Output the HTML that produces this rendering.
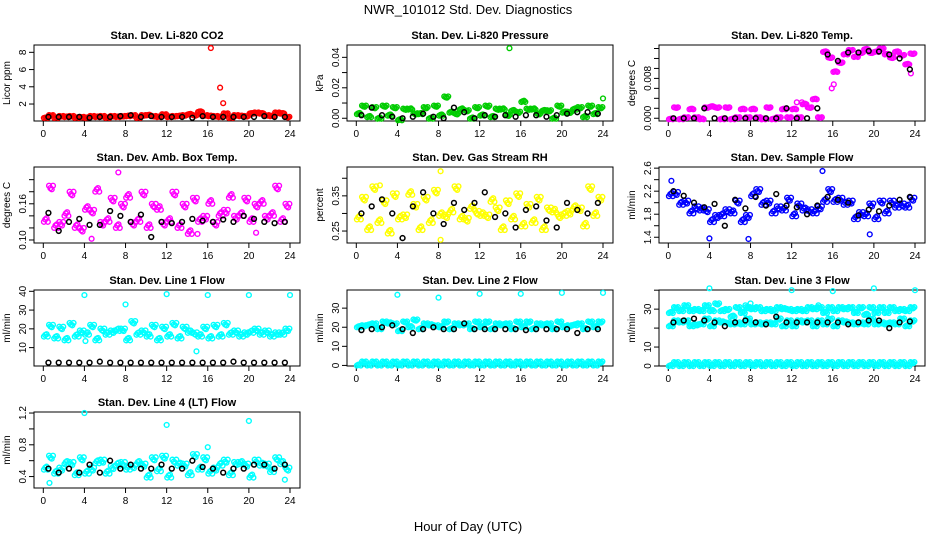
<!DOCTYPE html>
<html><head><meta charset="utf-8"><style>
html,body{margin:0;padding:0;background:#fff;}
svg{display:block;font-family:"Liberation Sans",Arial,sans-serif;}
</style></head><body>
<svg id="chart" width="936" height="540" viewBox="0 0 936 540">
<text x="468" y="14" text-anchor="middle" font-size="13">NWR_101012 Std. Dev. Diagnostics</text>
<text x="468" y="531" text-anchor="middle" font-size="13">Hour of Day (UTC)</text>
</svg>
<script>
// ---- data (values every 0.5 h for colored series, hourly for black series) ----
const xTicks = [0,4,8,12,16,20,24];
const co2Vals = [0.5,0.6,0.5,0.5,0.6,0.5,0.5,0.4,0.5,0.5,0.6,0.5,0.5,0.5,0.6,0.5,0.7,0.6,0.5,0.6,0.8,0.5,0.6,0.7,0.6,0.5,0.7,0.6,0.9,0.6,1.2,0.6,0.7,0.5,0.6,0.8,0.5,0.6,0.7,0.5,1.0,0.9,1.0,0.6,0.7,0.9,1.0,0.4];
const co2ExtraT = [16.3,17.2,17.5];
const co2ExtraV = [8.5,3.9,2.1];
const co2Black = [0.5,0.5,0.5,0.5,0.4,0.5,0.5,0.6,0.7,0.5,0.6,0.5,0.5,0.5,0.4,0.6,0.5,0.5,0.5,0.5,0.5,0.6,0.5,0.5];
const presVals = [0.004,0.007,0.002,0.006,0.001,0.007,0.003,0.006,0.000,0.005,0.007,0.002,0.004,0.006,0.001,0.007,0.003,0.013,0.005,0.002,0.007,0.004,0.001,0.006,0.003,0.007,0.002,0.005,0.007,0.001,0.006,0.003,0.012,0.005,0.007,0.002,0.006,0.004,0.001,0.007,0.005,0.003,0.007,0.006,0.002,0.007,0.004,0.006];
const presExtraT = [14.9,24];
const presExtraV = [0.046,0.013];
const presBlack = [0.002,0.007,0.002,0.001,0.000,0.001,0.003,0.001,0.000,0.007,0.004,0.000,0.002,0.001,0.002,0.001,0.002,0.002,0.001,0.002,0.003,0.004,0.004,0.003];
const tempVals = [0,0.002,0,0,0.002,0,0,0.002,0.0025,0.002,0,0.002,0,0,0.002,0,0.002,0,0,0.002,0,0,0.002,0,0.002,0,0.003,0.002,0.004,0,0.0135,0.012,0.0095,0.011,0.013,0.0135,0.0125,0.013,0.014,0.013,0.0135,0.0138,0.013,0.012,0.0135,0.0125,0.011,0.0128];
const tempExtraT = [15.9,16.1,23.6,12.5,13];
const tempExtraV = [0.006,0.0068,0.009,0.0032,0.0032];
const tempBlack = [0,0,0,0.002,0,0,0,0,0,0,0,0.002,0,0,0.002,0.0128,0.0115,0.0132,0.0132,0.0135,0.0134,0.0128,0.012,0.0098];
const ambVals = [0.14,0.18,0.13,0.12,0.15,0.17,0.13,0.11,0.16,0.14,0.19,0.12,0.14,0.16,0.13,0.15,0.18,0.12,0.14,0.17,0.13,0.15,0.16,0.12,0.14,0.17,0.13,0.15,0.12,0.16,0.14,0.13,0.17,0.12,0.15,0.14,0.18,0.13,0.15,0.16,0.14,0.15,0.17,0.13,0.15,0.18,0.14,0.15];
const ambExtraT = [7.3,4.7,15,20.7];
const ambExtraV = [0.212,0.102,0.11,0.112];
const ambBlack = [0.145,0.115,0.13,0.135,0.125,0.125,0.148,0.14,0.13,0.142,0.105,0.13,0.128,0.13,0.135,0.132,0.13,0.134,0.13,0.14,0.135,0.13,0.128,0.13];
const rhVals = [0.30,0.33,0.27,0.36,0.29,0.32,0.26,0.34,0.30,0.28,0.37,0.31,0.27,0.33,0.29,0.35,0.31,0.28,0.32,0.36,0.30,0.27,0.33,0.29,0.31,0.28,0.35,0.30,0.27,0.32,0.30,0.34,0.28,0.31,0.29,0.33,0.27,0.30,0.32,0.28,0.31,0.29,0.33,0.30,0.28,0.36,0.31,0.33];
const rhExtraT = [8.2,8.2,2.3];
const rhExtraV = [0.42,0.225,0.38];
const rhBlack = [0.30,0.32,0.34,0.30,0.23,0.32,0.36,0.30,0.27,0.33,0.31,0.33,0.36,0.29,0.30,0.26,0.31,0.32,0.28,0.26,0.33,0.31,0.30,0.33];
const flowVals = [2.2,2.1,2.05,1.95,1.9,1.85,1.95,1.8,1.75,1.7,1.85,1.8,1.9,1.95,1.75,1.7,2.2,2.15,2.05,1.95,1.9,1.85,1.95,2.0,1.85,1.9,1.95,1.8,1.9,1.85,2.1,2.15,2.1,2.0,2.05,1.95,1.8,1.75,1.85,1.9,1.8,1.95,1.9,1.95,2.0,1.9,2.0,2.0];
const flowExtraT = [15,4,7.8,0.3,19.6];
const flowExtraV = [2.55,1.38,1.37,2.38,1.45];
const flowBlack = [2.2,2.12,2.0,1.92,1.98,1.6,2.05,1.9,2.1,1.95,2.15,1.95,1.92,1.8,1.95,2.1,2.05,2.0,1.78,1.88,1.85,1.95,2.05,2.1];
const l1Vals = [18,20,17,19,16,21,18,17,19,20,16,18,19,17,21,18,16,22,19,17,18,20,16,19,18,21,17,19,20,16,18,19,17,20,18,21,19,17,18,16,20,18,19,17,18,16,19,18];
const l1ExtraT = [4,8,12,16,20,24,14.9,4.1];
const l1ExtraV = [38,33,38.5,38,38,38,8,13.5];
const l1Black = [2,2,2,2,2,2.5,2,2,2,2,2,2,2,2,2,2,2,2,2.5,2,2,2,2,2];
const l2Vals = [21,20,22,21,20,22,23,21,19,22,21,23,20,21,22,20,21,22,20,21,22,21,20,22,21,22,20,21,22,21,20,22,21,22,20,21,22,21,20,22,21,20,22,21,20,22,21,22];
const l2Low = [1,1,1,1,1,1,1,1,1,1,1,1,1,1,1,1,1,1,1,1,1,1,1,1,1,1,1,1,1,1,1,1,1,1,1,1,1,1,1,1,1,1,1,1,1,1,1,1];
const l2ExtraT = [4,8,12,16,20,24];
const l2ExtraV = [37,35.5,37.5,37.5,38,38];
const l2Black = [18.5,19,20,21,19,17,19,20,19,19,22,19,19,19,19,19,18.5,19,19,19,19,17,19,19];
const l3Vals = [29,30,30,31,30,29,30,31,30,32,30,29,27,30,29,30,31,30,30,29,30,30,31,29,30,29,30,30,31,30,29,30,30,30,31,30,29,30,28,30,29,30,29,30,30,29,30,30];
const l3Mid = [22,23,24,23,22,21,23,24,22,23,24,22,23,22,23,24,23,22,23,22,23,24,22,23,22,23,24,23,22,23,23,24,22,23,24,22,23,22,23,24,23,22,23,22,23,24,22,23];
const l3Low = [1,1,1,1,1,1,1,1,1,1,1,1,1,1,1,1,1,1,1,1,1,1,1,1,1,1,1,1,1,1,1,1,1,1,1,1,1,1,1,1,1,1,1,1,1,1,1,1];
const l3ExtraT = [4,12,16,20,24,7.5,8,14.6];
const l3ExtraV = [41,40,39.5,41,40,32,33,32];
const l3Black = [23,24,25,24,23,21,23,24,23,22,26,23,23,23,23,23,23,22,23,24,24,20,23,23.5];
const l4Vals = [0.55,0.6,0.5,0.45,0.62,0.52,0.48,0.58,0.5,0.45,0.63,0.55,0.5,0.47,0.6,0.52,0.55,0.48,0.62,0.5,0.45,0.58,0.53,0.6,0.45,0.55,0.6,0.5,0.48,0.62,0.55,0.58,0.5,0.45,0.6,0.55,0.48,0.52,0.62,0.5,0.45,0.55,0.6,0.5,0.52,0.58,0.62,0.45];
const l4ExtraT = [4,12,20,16,0.6,23.5];
const l4ExtraV = [1.2,1.05,1.1,0.77,0.32,0.36];
const l4Black = [0.5,0.45,0.5,0.45,0.55,0.45,0.6,0.5,0.55,0.5,0.5,0.55,0.5,0.5,0.6,0.52,0.5,0.45,0.5,0.5,0.55,0.55,0.5,0.55];

const NS = "http://www.w3.org/2000/svg";
const svg = document.getElementById("chart");
const colL = [34, 347, 659], colW = 266;
const rowT = [45, 167, 290, 412], rowH = 76;

const panels = [
 {id:"co2",title:"Stan. Dev. Li-820 CO2",ylab:"Licor ppm",c:0,r:0,ymin:0.03,ymax:8.85,ticks:[2,4,6,8],labs:["2","4","6","8"],color:"#ff0000",spread:1,series:[co2Vals],et:co2ExtraT,ev:co2ExtraV,black:co2Black},
 {id:"pressure",title:"Stan. Dev. Li-820 Pressure",ylab:"kPa",c:1,r:0,ymin:-0.0018,ymax:0.0481,ticks:[0,0.01,0.02,0.03,0.04],labs:["0.00","","0.02","","0.04"],color:"#00cc00",spread:2,series:[presVals],et:presExtraT,ev:presExtraV,black:presBlack},
 {id:"temp",title:"Stan. Dev. Li-820 Temp.",ylab:"degrees C",c:2,r:0,ymin:-0.00055,ymax:0.0147,ticks:[0,0.002,0.004,0.006,0.008,0.01,0.012,0.014],labs:["0.000","","","","0.008","","",""],color:"#ff00ff",spread:1,series:[tempVals],et:tempExtraT,ev:tempExtraV,black:tempBlack},
 {id:"amb-box",title:"Stan. Dev. Amb. Box Temp.",ylab:"degrees C",c:0,r:1,ymin:0.095,ymax:0.221,ticks:[0.10,0.12,0.14,0.16,0.18,0.20],labs:["0.10","","","0.16","",""],color:"#ff00ff",spread:6,series:[ambVals],et:ambExtraT,ev:ambExtraV,black:ambBlack},
 {id:"gas-rh",title:"Stan. Dev. Gas Stream RH",ylab:"percent",c:1,r:1,ymin:0.216,ymax:0.432,ticks:[0.25,0.30,0.35,0.40],labs:["0.25","","0.35",""],color:"#ffff00",spread:6,series:[rhVals],et:rhExtraT,ev:rhExtraV,black:rhBlack},
 {id:"sample-flow",title:"Stan. Dev. Sample Flow",ylab:"ml/min",c:2,r:1,ymin:1.3,ymax:2.62,ticks:[1.4,1.6,1.8,2.0,2.2,2.4,2.6],labs:["1.4","","1.8","","2.2","","2.6"],color:"#0000ff",spread:5,series:[flowVals],et:flowExtraT,ev:flowExtraV,black:flowBlack},
 {id:"line1",title:"Stan. Dev. Line 1 Flow",ylab:"ml/min",c:0,r:2,ymin:0.2,ymax:40.7,ticks:[10,20,30,40],labs:["10","20","30","40"],color:"#00ffff",spread:4,series:[l1Vals],et:l1ExtraT,ev:l1ExtraV,black:l1Black},
 {id:"line2",title:"Stan. Dev. Line 2 Flow",ylab:"ml/min",c:1,r:2,ymin:-0.3,ymax:39.5,ticks:[0,10,20,30],labs:["0","10","20","30"],color:"#00ffff",spread:2,series:[l2Vals,l2Low],et:l2ExtraT,ev:l2ExtraV,black:l2Black},
 {id:"line3",title:"Stan. Dev. Line 3 Flow",ylab:"ml/min",c:2,r:2,ymin:0,ymax:40.1,ticks:[0,10,20,30,40],labs:["0","10","","30",""],color:"#00ffff",spread:2,series:[l3Vals,l3Mid,l3Low],et:l3ExtraT,ev:l3ExtraV,black:l3Black},
 {id:"line4",title:"Stan. Dev. Line 4 (LT) Flow",ylab:"ml/min",c:0,r:3,ymin:0.256,ymax:1.213,ticks:[0.4,0.6,0.8,1.0,1.2],labs:["0.4","","0.8","","1.2"],color:"#00ffff",spread:5,series:[l4Vals],et:l4ExtraT,ev:l4ExtraV,black:l4Black}
];

const dupDx = [-0.19, -0.06, 0.07, 0.19];
const dupDy = [-1, 0.6, -0.4, 1];

function mk(tag, attrs, parent){
  const e = document.createElementNS(NS, tag);
  for (const k in attrs) e.setAttribute(k, attrs[k]);
  (parent||svg).appendChild(e);
  return e;
}

panels.forEach(p => {
  const L = colL[p.c], T = rowT[p.r], W = colW, H = rowH;
  const g = mk("g", {});
  
  
  const xs = t => L + 9.3 + t * (W - 19.3) / 24;
  const ys = v => T + H - (v - p.ymin) / (p.ymax - p.ymin) * H;

  const box = mk("rect", {x:L, y:T, width:W, height:H, fill:"none", stroke:"#000", "stroke-width":1}, g);
  
  

  const title = mk("text", {x:L + W/2, y:T - 6, "text-anchor":"middle", "font-size":11, "font-weight":"bold"}, g);
  title.textContent = p.title;
  
  

  const yl = mk("text", {x:0, y:0, transform:`translate(${L-24},${T+H/2}) rotate(-90)`, "text-anchor":"middle", "font-size":10}, g);
  yl.textContent = p.ylab;
  
  

  const xa = mk("line", {x1:xs(xTicks[0]), x2:xs(xTicks[xTicks.length-1]), y1:T+H, y2:T+H, stroke:"#000"}, g);
  
  
  xTicks.forEach(t => {
    const tk = mk("line", {x1:xs(t), x2:xs(t), y1:T+H, y2:T+H+5, stroke:"#000"}, g);
    
    
    const tl = mk("text", {x:xs(t), y:T+H+16, "text-anchor":"middle", "font-size":10}, g);
    tl.textContent = t;
    
    
  });
  const ya = mk("line", {x1:L, x2:L, y1:ys(p.ticks[0]), y2:ys(p.ticks[p.ticks.length-1]), stroke:"#000"}, g);
  
  
  p.ticks.forEach((v, i) => {
    const tk = mk("line", {x1:L-5, x2:L, y1:ys(v), y2:ys(v), stroke:"#000"}, g);
    
    
    if (p.labs[i]) {
      const tl = mk("text", {x:0, y:0, transform:`translate(${L-8},${ys(v)}) rotate(-90)`, "text-anchor":"middle", "font-size":10}, g);
      tl.textContent = p.labs[i];
      
      
    }
  });

  p.series.forEach(arr => {
    arr.forEach((v, i) => {
      const t = 0.25 + i * 0.5;
      dupDx.forEach((d, k) => {
        const c = mk("circle", {cx:xs(t + d), cy:ys(v) + dupDy[k] * p.spread * ((i + k) % 2 ? 1 : -1), r:2.4, fill:"none", stroke:p.color, "stroke-width":1.4}, g);
        
        
      });
    });
  });
  p.et.forEach((t, i) => {
    const c = mk("circle", {cx:xs(t), cy:ys(p.ev[i]), r:2.4, fill:"none", stroke:p.color, "stroke-width":1.4}, g);
    
    
  });
  p.black.forEach((v, i) => {
    const c = mk("circle", {cx:xs(i + 0.5), cy:ys(v), r:2.4, fill:"none", stroke:"#000", "stroke-width":1.5}, g);
    
    
  });
});
</script>
</body></html>
